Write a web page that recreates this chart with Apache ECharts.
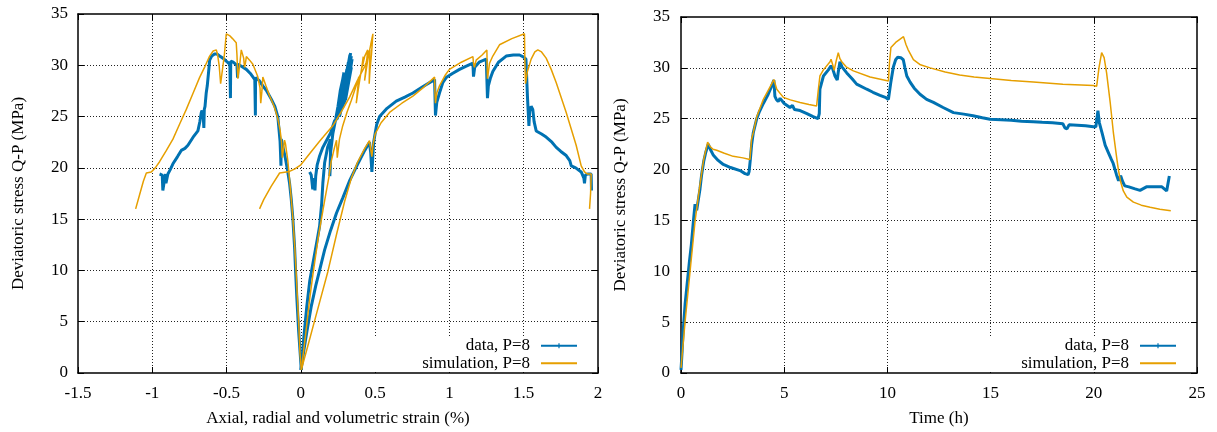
<!DOCTYPE html>
<html>
<head>
<meta charset="utf-8">
<script src="https://cdn.jsdelivr.net/npm/echarts@6.0.0/dist/echarts.min.js"></script>
<style>html,body{margin:0;padding:0;background:#fff}#c{width:1217px;height:432px}</style>
</head>
<body>
<div id="c"></div>
<script>
// ---------- data (strain %, Q-P MPa) ----------
const dataAxial = [[0,0.3],[0.02,2.2],[0.04,4],[0.07,6.5],[0.1,8.5],[0.126,10],[0.16,12],[0.2,13.9],[0.24,15.6],[0.283,17.1],[0.33,18.8],[0.38,20.3],[0.43,21.7],[0.462,22.5],[0.47,21.5],[0.478,19.6],[0.482,20.5],[0.49,22.5],[0.51,24.2],[0.53,25.0],[0.58,25.8],[0.642,26.5],[0.7,26.9],[0.754,27.3],[0.82,27.9],[0.9,28.6],[0.906,25.1],[0.915,26.4],[0.933,27.3],[0.955,28.3],[0.978,28.8],[1.02,29.2],[1.068,29.6],[1.11,29.9],[1.158,30.2],[1.162,28.9],[1.17,29.8],[1.2,30.3],[1.248,30.6],[1.256,26.8],[1.262,28.0],[1.275,28.7],[1.292,29.4],[1.33,30.3],[1.382,30.9],[1.43,31.0],[1.472,31.0],[1.5,30.8],[1.515,30.6],[1.525,27],[1.535,24.1],[1.54,25.5],[1.55,26.0],[1.561,25.7],[1.57,24.5],[1.584,23.6],[1.62,23.3],[1.651,23.0],[1.69,22.5],[1.719,22.0],[1.75,21.6],[1.786,21.2],[1.81,20.7],[1.82,20.2],[1.85,20.0],[1.887,19.6],[1.905,19.0],[1.909,18.5],[1.915,19.3],[1.93,19.4],[1.954,19.4],[1.956,17.8]];
const dataRadial = [[0.003,0.3],[-0.005,2],[-0.015,4.1],[-0.027,7.3],[-0.035,9.8],[-0.042,12.2],[-0.054,15.1],[-0.065,17.0],[-0.076,18.5],[-0.09,19.8],[-0.105,21.0],[-0.12,22.0],[-0.132,22.8],[-0.134,20.2],[-0.137,21.5],[-0.14,22.6],[-0.155,25.0],[-0.175,26.0],[-0.199,26.7],[-0.23,27.5],[-0.256,28.0],[-0.28,28.5],[-0.305,28.8],[-0.306,25.1],[-0.31,28.6],[-0.34,29.2],[-0.367,29.6],[-0.4,29.9],[-0.424,30.1],[-0.426,28.8],[-0.43,30.0],[-0.455,30.3],[-0.472,30.4],[-0.474,26.8],[-0.478,30.1],[-0.502,30.4],[-0.525,30.7],[-0.547,30.9],[-0.565,31.1],[-0.581,31.1],[-0.6,30.9],[-0.614,30.5],[-0.62,29.5],[-0.63,28.0],[-0.637,27.3],[-0.645,26.0],[-0.65,25.7],[-0.653,23.9],[-0.657,25.0],[-0.665,25.6],[-0.67,25.4],[-0.68,24.5],[-0.693,23.6],[-0.72,23.1],[-0.76,22.2],[-0.78,21.9],[-0.805,21.7],[-0.83,21.1],[-0.861,20.4],[-0.88,19.8],[-0.895,19.4],[-0.906,19.4],[-0.908,18.5],[-0.912,19.4],[-0.925,19.4],[-0.929,17.8],[-0.933,19.3],[-0.951,19.4]];
const dataVolumetric = [[0.003,0.3],[0.02,3.5],[0.04,6.5],[0.06,9],[0.085,11],[0.11,13],[0.126,14.3],[0.14,16.5],[0.148,18.5],[0.16,20.5],[0.18,22],[0.2,22.8],[0.198,20.0],[0.195,19.2],[0.2,21.5],[0.215,23.3],[0.235,24.8],[0.25,26],[0.265,27.5],[0.28,28.5],[0.29,29.3],[0.25,25.2],[0.31,29.6],[0.26,25.5],[0.32,30.3],[0.27,26.0],[0.33,31.0],[0.28,26.3],[0.335,31.2],[0.29,27.0],[0.34,30.9],[0.3,27.4],[0.345,30.6],[0.3,26.6],[0.34,29.8],[0.29,26.2],[0.33,30.2],[0.28,25.8],[0.325,29.5],[0.27,25.6],[0.315,28.8],[0.26,25.0],[0.3,27.5],[0.245,24.8],[0.227,24.6],[0.2,23.4],[0.17,22.6],[0.148,22.0],[0.125,21.1],[0.11,20.3],[0.1,19.2],[0.095,17.8],[0.085,19],[0.08,17.9],[0.07,19.3],[0.059,19.6]];
const simAxial = [[0.003,0.3],[0.05,2.8],[0.1,5.5],[0.182,9.9],[0.24,13.5],[0.294,16.7],[0.34,19.0],[0.38,20.5],[0.43,21.9],[0.462,22.65],[0.47,21.8],[0.478,21.1],[0.485,22.2],[0.5,23.3],[0.54,24.4],[0.597,25.4],[0.68,26.3],[0.754,27.0],[0.83,27.9],[0.9,28.85],[0.903,27.3],[0.906,26.3],[0.915,27.3],[0.933,28.0],[0.97,29.0],[1.0,29.6],[1.08,30.3],[1.158,30.85],[1.162,30.2],[1.168,29.8],[1.18,30.5],[1.22,31.0],[1.252,31.5],[1.254,30.0],[1.256,28.7],[1.27,30.2],[1.292,30.9],[1.337,32.0],[1.42,32.6],[1.505,33.07],[1.508,30.5],[1.512,28.2],[1.525,29.4],[1.55,30.6],[1.575,31.3],[1.595,31.5],[1.62,31.3],[1.651,30.7],[1.685,29.6],[1.719,28.3],[1.786,25.4],[1.853,22.2],[1.887,20.2],[1.909,19.6],[1.93,19.4],[1.954,19.4],[1.95,17.5],[1.943,16.0]];
const simRadial = [[0.003,0.3],[-0.006,2],[-0.013,4.4],[-0.022,7],[-0.031,9.6],[-0.042,12.5],[-0.054,15.1],[-0.07,17.9],[-0.087,20.6],[-0.103,22.3],[-0.11,22.7],[-0.117,21.8],[-0.125,21.0],[-0.13,22.5],[-0.14,23.7],[-0.155,24.8],[-0.18,26.0],[-0.21,27.0],[-0.235,28.0],[-0.256,28.85],[-0.262,27.5],[-0.27,26.3],[-0.275,27.8],[-0.29,28.9],[-0.323,30.1],[-0.345,30.5],[-0.367,30.85],[-0.372,30.3],[-0.379,29.8],[-0.385,30.7],[-0.401,31.5],[-0.412,30.0],[-0.424,28.7],[-0.43,31.0],[-0.435,32.2],[-0.46,32.6],[-0.48,32.9],[-0.502,33.07],[-0.515,31.0],[-0.54,28.2],[-0.55,30.0],[-0.56,31.0],[-0.569,31.5],[-0.59,31.4],[-0.614,30.9],[-0.645,29.9],[-0.682,28.8],[-0.725,27.3],[-0.771,25.7],[-0.815,24.3],[-0.861,22.8],[-0.905,21.7],[-0.951,20.6],[-0.98,20.0],[-1.007,19.6],[-1.04,19.5],[-1.06,18.7],[-1.085,17.4],[-1.112,16.0]];
const simVolumetric = [[0.003,0.3],[0.03,3.5],[0.06,7.3],[0.081,9.6],[0.12,13.5],[0.16,16.8],[0.19,19.2],[0.204,20.6],[0.225,21.9],[0.24,22.7],[0.243,21.8],[0.245,21.0],[0.26,22.8],[0.28,24.0],[0.31,25.4],[0.34,26.6],[0.37,27.9],[0.39,28.85],[0.381,27.5],[0.373,26.3],[0.39,28.0],[0.41,29.8],[0.42,30.85],[0.415,30.2],[0.413,29.8],[0.43,30.9],[0.45,31.5],[0.44,30.0],[0.429,28.5],[0.45,30.5],[0.47,32.0],[0.485,33.07],[0.475,31],[0.465,29.5],[0.46,28.2],[0.462,30],[0.465,31.5],[0.457,31.3],[0.44,30.3],[0.43,29.9],[0.38,28.5],[0.328,26.9],[0.27,25.4],[0.215,24.1],[0.15,23.0],[0.126,22.6],[0.06,21.4],[0,20.3],[-0.04,19.9],[-0.076,19.65],[-0.143,19.5],[-0.2,18.2],[-0.25,16.9],[-0.278,16.0]];
// ---------- data (time h, Q-P MPa) ----------
const dataTime = [[0,0.3],[0.05,2],[0.1,4],[0.2,6.8],[0.3,8.8],[0.4,10.8],[0.5,12.6],[0.6,14.9],[0.68,16.6],[0.72,16.7],[0.76,16.0],[0.84,16.1],[0.92,18.1],[1.0,19.5],[1.1,20.8],[1.2,21.7],[1.32,22.5],[1.36,22.6],[1.42,22.0],[1.57,21.4],[1.8,20.9],[2.05,20.5],[2.4,20.2],[2.86,19.9],[3.1,19.6],[3.25,19.5],[3.3,19.8],[3.36,21.0],[3.42,22.4],[3.5,23.6],[3.67,25.0],[3.8,25.7],[3.99,26.5],[4.2,27.3],[4.35,28.0],[4.5,28.8],[4.55,27.2],[4.62,26.9],[4.71,26.7],[4.8,27.0],[4.87,26.9],[5.0,26.5],[5.28,26.1],[5.4,26.3],[5.5,25.9],[5.77,25.8],[6.1,25.5],[6.4,25.2],[6.64,25.0],[6.7,25.5],[6.73,27.9],[6.9,29.2],[7.14,29.8],[7.27,30.2],[7.35,29.9],[7.46,29.2],[7.57,28.8],[7.62,29.6],[7.7,30.6],[7.8,30.1],[8.03,29.5],[8.3,28.9],[8.51,28.4],[9.0,27.9],[9.3,27.6],[9.64,27.3],[9.9,27.1],[10.05,26.9],[10.16,28.5],[10.29,30.1],[10.4,30.8],[10.5,31.05],[10.65,31.0],[10.77,30.8],[10.85,30.0],[10.94,29.2],[11.1,28.6],[11.3,28.0],[11.58,27.4],[11.9,26.9],[12.23,26.6],[12.7,26.1],[13.2,25.6],[13.7,25.45],[14.15,25.3],[14.6,25.1],[14.97,24.95],[15.5,24.9],[16.0,24.85],[16.5,24.75],[17.06,24.7],[17.5,24.65],[18.0,24.6],[18.5,24.5],[18.6,24.1],[18.7,24.0],[18.8,24.4],[19.2,24.35],[19.6,24.3],[19.98,24.2],[20.1,24.2],[20.2,25.8],[20.27,24.6],[20.4,23.6],[20.55,22.4],[20.7,21.7],[20.85,21.0],[20.94,20.6],[21.1,19.5],[21.2,18.9],[21.3,19.4],[21.4,18.8],[21.5,18.4],[21.7,18.3],[22.0,18.1],[22.24,17.96],[22.55,18.3],[23.0,18.3],[23.3,18.3],[23.53,17.9],[23.58,18.0],[23.66,19.36]];
const simTime = [[0,0.5],[0.2,5.1],[0.44,10.0],[0.68,14.9],[0.89,18.1],[1.1,21.0],[1.29,22.7],[1.4,22.3],[1.55,22.0],[1.73,21.9],[2.1,21.6],[2.53,21.3],[3.0,21.15],[3.34,21.0],[3.42,23.0],[3.5,23.6],[3.67,25.2],[3.99,26.9],[4.31,28.1],[4.5,28.85],[4.64,27.9],[4.96,27.1],[5.3,26.85],[5.77,26.6],[6.2,26.4],[6.57,26.25],[6.65,27.8],[6.73,29.2],[6.9,29.8],[7.22,30.6],[7.27,30.85],[7.35,30.3],[7.42,29.75],[7.52,30.7],[7.62,31.5],[7.7,30.9],[7.79,30.6],[8.0,30.1],[8.35,29.7],[9.16,29.1],[10.05,28.7],[10.1,30.5],[10.17,32.0],[10.4,32.5],[10.6,32.8],[10.78,33.07],[10.9,32.3],[11.0,31.8],[11.26,30.8],[11.6,30.3],[12.07,30.0],[12.8,29.6],[13.5,29.3],[14.2,29.1],[14.97,28.95],[16.0,28.75],[17.07,28.6],[18.5,28.4],[19.98,28.26],[20.14,28.2],[20.25,30.0],[20.38,31.5],[20.5,31.0],[20.62,29.5],[20.8,26.5],[20.95,23.6],[21.1,21.3],[21.19,20.0],[21.3,18.8],[21.43,17.9],[21.6,17.3],[21.92,16.8],[22.3,16.5],[22.73,16.3],[23.2,16.1],[23.73,15.95]];

const DATA_NAME = 'data, P=8';
const SIM_NAME = 'simulation, P=8';
const Y_NAME = 'Deviatoric stress Q-P (MPa)';
const X1_NAME = 'Axial, radial and volumetric strain (%)';
const X2_NAME = 'Time (h)';

// ---------- style ----------
const FONT = 'Liberation Serif';
const FS = 17;
const BLUE = '#0072B2';
const ORANGE = '#E69F00';
// legend keys: 36x8 box, line with a small "+" for the data entry
const CORNERS = 'M0,0 L0.01,0 L0,0.01 Z M36,8 L35.99,8 L36,7.99 Z ';
const DATA_ICON = 'path://' + CORNERS + 'M0,3.1 L36,3.1 L36,4.9 L0,4.9 Z M17.4,1.6 L18.6,1.6 L18.6,6.4 L17.4,6.4 Z M15.6,3 L20.4,3 L20.4,5 L15.6,5 Z';
const SIM_ICON = 'path://' + CORNERS + 'M0,3 L36,3 L36,5 L0,5 Z';

function mainAxis(pos, gridIndex, min, max, interval, name, nameGap, labelMargin) {
  return {
    type: 'value', gridIndex, position: pos, min, max, interval,
    name, nameLocation: 'middle', nameGap,
    nameTextStyle: {fontFamily: FONT, fontSize: FS, color: '#000'},
    axisLine: {show: true, onZero: false, lineStyle: {color: '#000', width: 1.5}},
    axisTick: {show: true, inside: true, length: 6, lineStyle: {color: '#000', width: 1}},
    axisLabel: {fontFamily: FONT, fontSize: FS, color: '#000', margin: labelMargin},
    splitLine: {show: true, showMinLine: false, showMaxLine: false, lineStyle: {color: '#222', width: 1, type: [1, 2]}}
  };
}
function mirrorAxis(pos, gridIndex, min, max, interval) {
  return {
    type: 'value', gridIndex, position: pos, min, max, interval,
    axisLine: {show: true, onZero: false, lineStyle: {color: '#000', width: 1.5}},
    axisTick: {show: true, inside: true, length: 6, lineStyle: {color: '#000', width: 1}},
    axisLabel: {show: false},
    splitLine: {show: false}
  };
}
function line(name, data, xi, yi, color, width) {
  return {
    type: 'line', name, data, xAxisIndex: xi, yAxisIndex: yi,
    symbol: 'none', showSymbol: false, smooth: false,
    lineStyle: {color, width}, itemStyle: {color},
    emphasis: {disabled: true}, animation: false
  };
}
function legend(right) {
  return {
    data: [{name: DATA_NAME, icon: DATA_ICON}, {name: SIM_NAME, icon: SIM_ICON}],
    orient: 'vertical', align: 'right',
    right, top: 337, itemWidth: 36, itemHeight: 8, itemGap: 0,
    padding: [0, 20, 0, 80], backgroundColor: '#fff',
    textStyle: {fontFamily: FONT, fontSize: FS, color: '#000', lineHeight: 17.5, padding: [0, 6, 0, 0]},
    selectedMode: false
  };
}

const chart = echarts.init(document.getElementById('c'), null, {renderer: 'canvas'});
chart.setOption({
  animation: false,
  backgroundColor: '#fff',
  grid: [
    {left: 78, right: 619, top: 14, bottom: 56},
    {left: 681, right: 20, top: 17, bottom: 56}
  ],
  xAxis: [
    mainAxis('bottom', 0, -1.5, 2, 0.5, X1_NAME, 37, 12),
    mirrorAxis('top', 0, -1.5, 2, 0.5),
    mainAxis('bottom', 1, 0, 25, 5, X2_NAME, 37, 12),
    mirrorAxis('top', 1, 0, 25, 5)
  ],
  yAxis: [
    mainAxis('left', 0, 0, 35, 5, Y_NAME, 51, 10),
    mirrorAxis('right', 0, 0, 35, 5),
    mainAxis('left', 1, 0, 35, 5, Y_NAME, 52, 11),
    mirrorAxis('right', 1, 0, 35, 5)
  ],
  legend: [legend(620), legend(21)],
  series: [
    line(DATA_NAME, dataAxial, 0, 0, BLUE, 3),
    line(DATA_NAME, dataRadial, 0, 0, BLUE, 3),
    line(DATA_NAME, dataVolumetric, 0, 0, BLUE, 3),
    line(SIM_NAME, simAxial, 0, 0, ORANGE, 1.5),
    line(SIM_NAME, simRadial, 0, 0, ORANGE, 1.5),
    line(SIM_NAME, simVolumetric, 0, 0, ORANGE, 1.5),
    line(DATA_NAME, dataTime, 2, 2, BLUE, 3),
    line(SIM_NAME, simTime, 2, 2, ORANGE, 1.5)
  ]
});
</script>
</body>
</html>
